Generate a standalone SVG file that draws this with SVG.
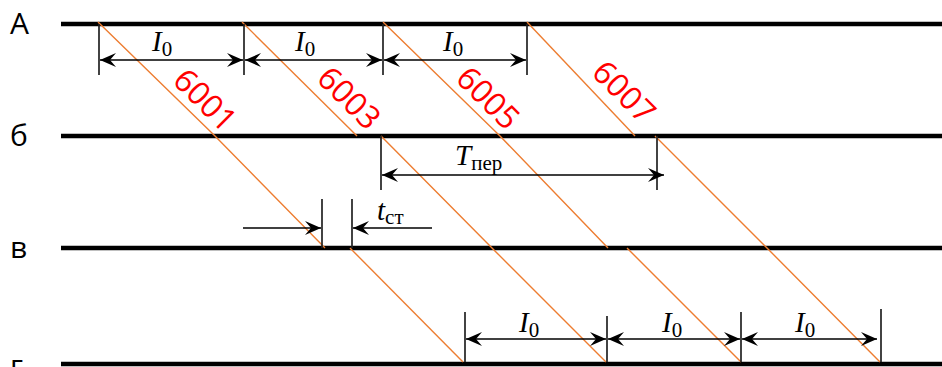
<svg xmlns="http://www.w3.org/2000/svg" width="942" height="367" viewBox="0 0 942 367">
<style>
.track{stroke:#000;stroke-width:4.5;fill:none}
.train{stroke:#ED7D31;stroke-width:1.4;fill:none}
.tick{stroke:#222;stroke-width:1.7;fill:none}
.dim{stroke:#000;stroke-width:1.6;fill:none}
.st{font-family:"Open Sans","Noto Sans",sans-serif;font-size:30px;fill:#000}
.num{font-family:"Open Sans","Noto Sans",sans-serif;font-size:32px;fill:#FF0000}
.it{font-family:"Liberation Serif",serif;font-style:italic;font-size:29px;fill:#000}
.sub{font-style:normal;font-size:21px}
</style>
<defs>
<marker id="ah" viewBox="-17 -8 18 16" refX="0" refY="0" markerWidth="18" markerHeight="16" markerUnits="userSpaceOnUse" orient="auto-start-reverse" overflow="visible">
<path d="M0,0 L-16,-7 L-10,0 L-16,7 z" fill="#000"/>
</marker>
</defs>

<g id="tracks">
<line class="track" x1="61" y1="24" x2="942" y2="24"/>
<line class="track" x1="61" y1="136" x2="942" y2="136"/>
<line class="track" x1="61" y1="248" x2="942" y2="248"/>
<line class="track" x1="61" y1="364" x2="942" y2="364"/>
</g>

<g id="station-labels">
<text class="st" x="10" y="34">А</text>
<text class="st" x="10" y="146">б</text>
<text class="st" x="10" y="258">в</text>
<text class="st" x="10" y="376">г</text>
</g>

<g id="connectors">
<g id="train-6001">
<polyline class="train" points="98,22 215,136 325,248"/>
<line class="train" x1="350" y1="248" x2="463" y2="362"/>
</g>
<g id="train-6003">
<line class="train" x1="242" y1="22" x2="357" y2="136"/>
<polyline class="train" points="381,136 492,248 606,362"/>
</g>
<g id="train-6005">
<polyline class="train" points="383,22 500,136 608,248"/>
<line class="train" x1="627" y1="248" x2="741" y2="362"/>
</g>
<g id="train-6007">
<line class="train" x1="527" y1="22" x2="635" y2="136"/>
<polyline class="train" points="655,136 767,248 880,362"/>
</g>
</g>

<g id="train-labels">
<text class="num" text-anchor="middle" transform="translate(205,100) rotate(45)" y="11">6001</text>
<text class="num" text-anchor="middle" transform="translate(349,98) rotate(45)" y="11">6003</text>
<text class="num" text-anchor="middle" transform="translate(488,98) rotate(45)" y="11">6005</text>
<text class="num" text-anchor="middle" transform="translate(624,92) rotate(45)" y="11">6007</text>
</g>

<g id="dim-A">
<line class="tick" x1="99" y1="24" x2="99" y2="75"/>
<line class="tick" x1="244" y1="24" x2="244" y2="75"/>
<line class="tick" x1="383" y1="24" x2="383" y2="75"/>
<line class="tick" x1="527" y1="24" x2="527" y2="75"/>
<line class="dim" x1="100" y1="60" x2="243" y2="60" marker-start="url(#ah)" marker-end="url(#ah)"/>
<line class="dim" x1="245" y1="60" x2="382" y2="60" marker-start="url(#ah)" marker-end="url(#ah)"/>
<line class="dim" x1="384" y1="60" x2="526" y2="60" marker-start="url(#ah)" marker-end="url(#ah)"/>
<text class="it" x="152" y="51">I<tspan class="sub" dy="5">0</tspan></text>
<text class="it" x="295" y="51">I<tspan class="sub" dy="5">0</tspan></text>
<text class="it" x="443" y="51">I<tspan class="sub" dy="5">0</tspan></text>
</g>

<g id="dim-Tper">
<line class="tick" x1="381" y1="136" x2="381" y2="190"/>
<line class="tick" x1="657" y1="136" x2="657" y2="190"/>
<line class="dim" x1="382" y1="175" x2="664" y2="175" marker-start="url(#ah)" marker-end="url(#ah)"/>
<text class="it" x="455" y="165">T<tspan class="sub" dy="5">пер</tspan></text>
</g>

<g id="dim-tst">
<line class="tick" x1="322" y1="199" x2="322" y2="248"/>
<line class="tick" x1="352" y1="199" x2="352" y2="248"/>
<line class="dim" x1="243" y1="228" x2="321" y2="228" marker-end="url(#ah)"/>
<line class="dim" x1="432" y1="228" x2="353" y2="228" marker-end="url(#ah)"/>
<text class="it" x="377" y="220">t<tspan class="sub" dy="4">ст</tspan></text>
</g>

<g id="dim-G">
<line class="tick" x1="465" y1="312" x2="465" y2="362"/>
<line class="tick" x1="607" y1="316" x2="607" y2="362"/>
<line class="tick" x1="741" y1="312" x2="741" y2="362"/>
<line class="tick" x1="881" y1="309" x2="881" y2="362"/>
<line class="dim" x1="466" y1="339" x2="606" y2="339" marker-start="url(#ah)" marker-end="url(#ah)"/>
<line class="dim" x1="608" y1="339" x2="740" y2="339" marker-start="url(#ah)" marker-end="url(#ah)"/>
<line class="dim" x1="742" y1="339" x2="877" y2="339" marker-start="url(#ah)" marker-end="url(#ah)"/>
<text class="it" x="519" y="332">I<tspan class="sub" dy="5">0</tspan></text>
<text class="it" x="662" y="332">I<tspan class="sub" dy="5">0</tspan></text>
<text class="it" x="795" y="332">I<tspan class="sub" dy="5">0</tspan></text>
</g>
</svg>
